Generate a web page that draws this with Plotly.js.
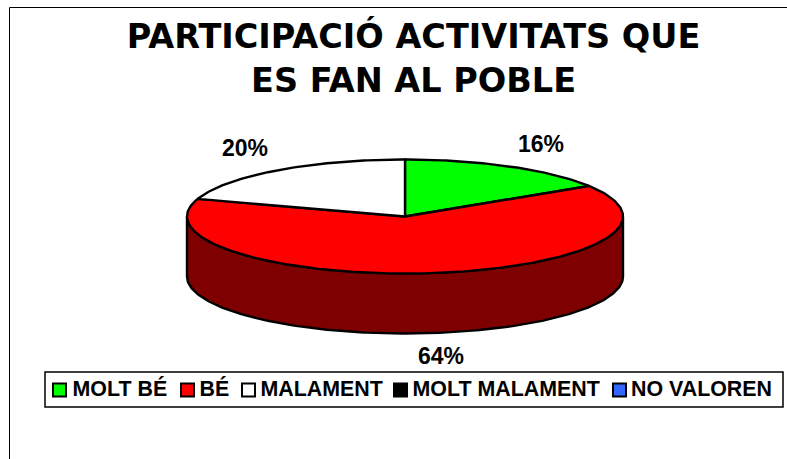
<!DOCTYPE html>
<html><head><meta charset="utf-8">
<script src="https://cdn.plot.ly/plotly-3.0.1.min.js"></script>
<style>html,body{margin:0;padding:0;background:#fff}#c{width:787px;height:459px}</style>
</head><body><div id="c"></div>
<script>
const categories = ['MOLT BÉ','BÉ','MALAMENT','MOLT MALAMENT','NO VALOREN'];
const values = [16,64,20,0,0];
const colors = ['#00ff00','#ff0000','#ffffff','#000000','#3366ff'];
const sideColors = ['#007f00','#7f0000','#7f7f7f','#000000','#19337f'];
const titleText = 'PARTICIPACIÓ ACTIVITATS QUE<br>ES FAN AL POBLE';

// geometry of the drawn pie (axis units equal pixels of the page)
const W=787,H=459,cx=405,cy=216.5,rx=218,ry=57,depth=60;
const labelPos=[[541,146],[441,358],[245,150]];
const legendSwatchX=[59.5,187.5,248.5,400.5,619.5];
const legendTextX=[72.5,199.5,260.5,412.5,631];
const legendY=390;

const total=values.reduce((a,b)=>a+b,0);
const pt=(deg,dy)=>{const r=deg*Math.PI/180;return [cx+rx*Math.sin(r),cy-ry*Math.cos(r)+(dy||0)];};
function arc(a,b,dy){const out=[],n=Math.max(2,Math.ceil((b-a)));for(let i=0;i<=n;i++)out.push(pt(a+(b-a)*i/n,dy));return out;}
const line={color:'#000',width:2.4};
const traces=[];
function poly(p,fill){traces.push({type:'scatter',mode:'lines',x:p.map(q=>q[0]),y:p.map(q=>q[1]),fill:'toself',fillcolor:fill,line:line,hoverinfo:'skip',showlegend:false});}
let acc=0;const spans=values.map(v=>{const s=[acc,acc+v/total*360];acc=s[1];return s;});
// side walls: only the front half of the rim (90° to 270°) is visible
spans.forEach((s,i)=>{
  const a=Math.max(s[0],90),b=Math.min(s[1],270);
  if(values[i]>0&&b>a) poly(arc(a,b,0).concat(arc(a,b,depth).reverse()).concat([pt(a,0)]),sideColors[i]);
});
// top faces
spans.forEach((s,i)=>{
  if(values[i]>0) poly([[cx,cy]].concat(arc(s[0],s[1],0)).concat([[cx,cy]]),colors[i]);
});
// percentage labels
const shown=values.map((v,i)=>i).filter(i=>values[i]>0);
traces.push({type:'scatter',mode:'text',x:shown.map((_,k)=>labelPos[k][0]),y:shown.map((_,k)=>labelPos[k][1]),
  text:shown.map(i=>values[i]+'%'),textposition:'middle center',
  textfont:{family:'Liberation Sans',size:23,color:'#000',weight:700},hoverinfo:'skip',showlegend:false});
// legend
traces.push({type:'scatter',mode:'markers',x:legendSwatchX,y:categories.map(()=>legendY),
  marker:{symbol:'square',size:13,color:colors,line:{color:'#000',width:2}},hoverinfo:'skip',showlegend:false});
traces.push({type:'scatter',mode:'text',x:legendTextX,y:categories.map(()=>legendY+1),text:categories,
  textposition:'middle right',textfont:{family:'Liberation Sans',size:21.4,color:'#000',weight:700},hoverinfo:'skip',showlegend:false});

const layout={width:W,height:H,margin:{l:0,r:0,t:0,b:0},paper_bgcolor:'#fff',plot_bgcolor:'#fff',showlegend:false,
  xaxis:{range:[0,W],visible:false,fixedrange:true},yaxis:{range:[H,0],visible:false,fixedrange:true},
  title:{text:titleText,x:0.5255,xanchor:'center',y:0.895,yanchor:'top',automargin:false,font:{family:'DejaVu Sans',size:33.5,color:'#000',weight:700}},
  shapes:[
    {type:'rect',xref:'x',yref:'y',x0:9.5,x1:800,y0:7.5,y1:470,line:{color:'#000',width:1},layer:'below'},
    {type:'rect',xref:'x',yref:'y',x0:45,x1:783,y0:372,y1:407,line:{color:'#000',width:1.5},fillcolor:'#fff',layer:'below'}
  ]};
Plotly.newPlot('c',traces,layout,{displayModeBar:false,staticPlot:true});
</script></body></html>
